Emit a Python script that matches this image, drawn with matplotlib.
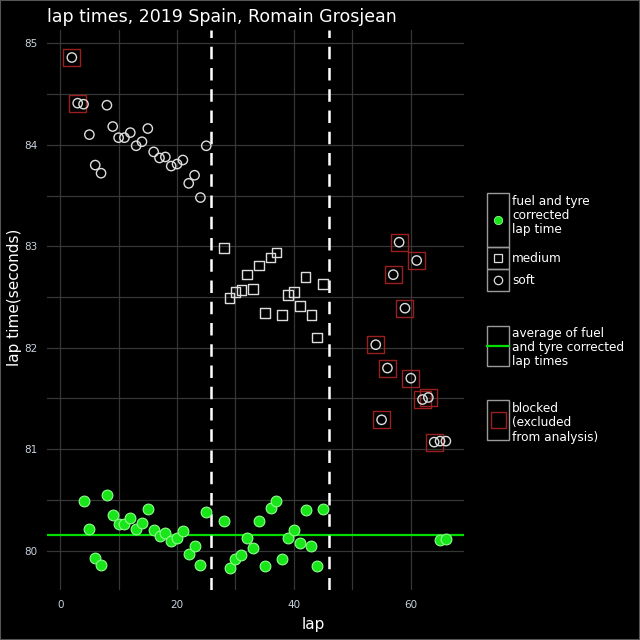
import numpy as np
import matplotlib
matplotlib.use("Agg")
import matplotlib.pyplot as plt
from matplotlib.patches import Rectangle
from matplotlib.lines import Line2D

# soft tyres, first stint
soft1_laps = [2, 3, 4, 5, 6, 7, 8, 9, 10, 11, 12, 13, 14, 15, 16, 17, 18, 19, 20, 21, 22, 23, 24, 25]
soft1_times = [84.86, 84.41, 84.40, 84.10, 83.80, 83.72, 84.39, 84.18, 84.07, 84.07, 84.12, 83.99,
               84.03, 84.16, 83.93, 83.87, 83.88, 83.79, 83.81, 83.85, 83.62, 83.70, 83.48, 83.99]

# medium tyres
medium_laps = [28, 29, 30, 31, 32, 33, 34, 35, 36, 37, 38, 39, 40, 41, 42, 43, 44, 45]
medium_times = [82.98, 82.49, 82.55, 82.57, 82.72, 82.58, 82.81, 82.34, 82.89, 82.94, 82.32, 82.52,
                82.55, 82.41, 82.70, 82.32, 82.10, 82.63]

# soft tyres, last stint
soft2_laps = [54, 55, 56, 57, 58, 59, 60, 61, 62, 63, 64, 65, 66]
soft2_times = [82.03, 81.29, 81.80, 82.72, 83.04, 82.39, 81.70, 82.86, 81.49, 81.51, 81.07, 81.08, 81.08]

# blocked laps
blocked_laps = [2, 3, 54, 55, 56, 57, 58, 59, 60, 61, 62, 63, 64]
blocked_times = [84.86, 84.41, 82.03, 81.29, 81.80, 82.72, 83.04, 82.39, 81.70, 82.86, 81.49, 81.51, 81.07]

# fuel and tyre corrected
corr_laps = [4, 5, 6, 7, 8, 9, 10, 11, 12, 13, 14, 15, 16, 17, 18, 19, 20, 21, 22, 23, 24, 25,
             28, 29, 30, 31, 32, 33, 34, 35, 36, 37, 38, 39, 40, 41, 42, 43, 44, 45, 65, 66]
corr_times = [80.49, 80.21, 79.93, 79.86, 80.55, 80.35, 80.26, 80.26, 80.32, 80.21, 80.27, 80.41,
              80.20, 80.15, 80.17, 80.10, 80.13, 80.19, 79.97, 80.05, 79.86, 80.38,
              80.29, 79.83, 79.92, 79.96, 80.13, 80.03, 80.29, 79.85, 80.42, 80.49, 79.92, 80.13,
              80.20, 80.08, 80.40, 80.05, 79.85, 80.41, 80.11, 80.12]

avg_corrected = 80.155
pit_laps = [25.8, 46]

fig = plt.figure(figsize=(6.4, 6.4), dpi=100, facecolor="black")
ax = fig.add_axes([47/640, 1 - 590/640, (464 - 47)/640, (590 - 30)/640])
ax.set_facecolor("black")

grid_c = "#363636"
ax.set_xlim(-2.25, 69.1)
ax.set_ylim(79.613, 85.131)
ax.set_xticks([0, 20, 40, 60])
ax.set_xticks([10, 30, 50], minor=True)
ax.set_yticks([80, 81, 82, 83, 84, 85])
ax.set_yticks([80.5, 81.5, 82.5, 83.5, 84.5], minor=True)
ax.grid(True, which="both", color=grid_c, lw=0.9)
ax.set_axisbelow(True)
for s in ax.spines.values():
    s.set_visible(False)
ax.tick_params(which="both", length=0, colors="#c9d3de", labelsize=7.5, pad=7)

ax.axhline(avg_corrected, color="#00dd00", lw=1.6, zorder=2)
for p in pit_laps:
    ax.axvline(p, color="white", lw=1.8, ls=(0, (5, 3.5)), zorder=2)

ax.scatter(blocked_laps, blocked_times, marker="s", s=150, facecolors="none",
           edgecolors="#9a2020", linewidths=1.0, zorder=3)
ax.scatter(soft1_laps + soft2_laps, soft1_times + soft2_times, marker="o", s=45,
           facecolors="none", edgecolors="#dddddd", linewidths=1.0, zorder=4)
ax.scatter(medium_laps, medium_times, marker="s", s=48, facecolors="none",
           edgecolors="#dddddd", linewidths=1.0, zorder=4)
ax.scatter(corr_laps, corr_times, marker="o", s=60, facecolors="#19e619",
           edgecolors="#8cff8c", linewidths=0.8, zorder=4)

fig.text(47/640, 1 - 17/640, "lap times, 2019 Spain, Romain Grosjean", color="white",
         fontsize=12.5, va="center", ha="left")
fig.text(313/640, 1 - 625/640, "lap", color="white", fontsize=11, ha="center", va="center")
fig.text(15/640, 1 - 297/640, "lap time(seconds)", color="white", fontsize=11,
         ha="center", va="center", rotation=90)

# legend drawn in pixel coordinates
def px(x, y):
    return x/640, 1 - y/640

key_c = "#9a9a9a"
def key_box(y0, y1):
    fig.patches.append(Rectangle(px(487, y1), 22/640, (y1 - y0)/640, transform=fig.transFigure,
                                 facecolor="none", edgecolor=key_c, lw=1.0))

leg_fs = 8.7
key_box(193, 247)
key_box(247, 269)
key_box(269, 291)
fig.lines.append(Line2D([498/640], [1 - 220/640], marker="o", ms=6, color="#19e619",
                        mec="#8cff8c", mew=0.6, transform=fig.transFigure))
fig.lines.append(Line2D([498/640], [1 - 258/640], marker="s", ms=6, mfc="none",
                        mec="#dddddd", mew=0.9, transform=fig.transFigure))
fig.lines.append(Line2D([498/640], [1 - 280/640], marker="o", ms=6, mfc="none",
                        mec="#dddddd", mew=0.9, transform=fig.transFigure))
for i, t in enumerate(["fuel and tyre", "corrected", "lap time"]):
    fig.text(*px(512, 201 + i*14.5), t, color="white", fontsize=leg_fs, va="center")
fig.text(*px(512, 259), "medium", color="white", fontsize=leg_fs, va="center")
fig.text(*px(512, 281), "soft", color="white", fontsize=leg_fs, va="center")

key_box(326, 366)
fig.lines.append(Line2D([487/640, 509/640], [1 - 346/640, 1 - 346/640], color="#00dd00",
                        lw=1.6, transform=fig.transFigure))
for i, t in enumerate(["average of fuel", "and tyre corrected", "lap times"]):
    fig.text(*px(512, 333 + i*14.5), t, color="white", fontsize=leg_fs, va="center")

key_box(400, 440)
fig.patches.append(Rectangle(px(490.5, 428), 15/640, 16/640, transform=fig.transFigure,
                             facecolor="none", edgecolor="#9a2020", lw=1.0))
for i, t in enumerate(["blocked", "(excluded", "from analysis)"]):
    fig.text(*px(512, 408 + i*14.5), t, color="white", fontsize=leg_fs, va="center")

fig.patches.append(Rectangle((0, 0), 1, 1, transform=fig.transFigure, facecolor="none",
                             edgecolor="#555555", lw=1.5))

fig.savefig("out.png", dpi=100, facecolor="black")
